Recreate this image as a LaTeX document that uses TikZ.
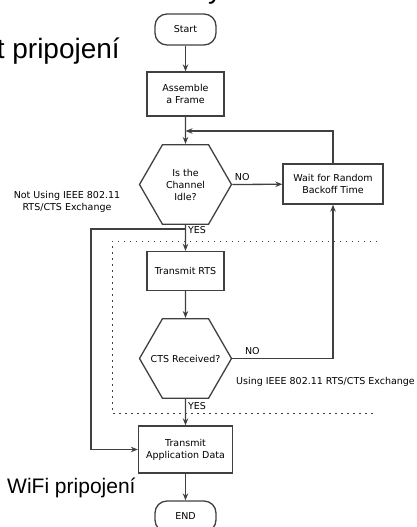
\documentclass[tikz,border=0pt]{standalone}
\usepackage{fontspec}
\setmainfont{DejaVu Sans}
\newfontfamily\slidefont{Liberation Sans}
\usepackage{tikz}
\usetikzlibrary{shapes.geometric,arrows.meta}

\begin{document}
\begin{tikzpicture}[x=1pt,y=-1pt,
  every node/.style={font=\fontsize{9.5}{12}\selectfont,align=center},
  box/.style={rectangle,draw=black!75,line width=1.3pt,inner sep=2pt},
  term/.style={box,rounded corners=12pt,minimum width=61pt,minimum height=31pt},
  test/.style={regular polygon,regular polygon sides=6,draw=black!75,line width=1.3pt,
    minimum size=92pt,inner sep=0pt},
  arr/.style={draw=black!75,line width=1.3pt,-{Stealth[length=7pt,width=5.5pt]}},
  big/.style={font=\slidefont\fontsize{#1}{#1}\selectfont,inner sep=0pt}]
\useasboundingbox (0,0) rectangle (417,527);
\node [big=28,anchor=base] (title) at (215,-1.5) {y};
\node [big=28,anchor=base east] (top) at (120,59) {t pripojení};
\node [big=21,anchor=base west] (bottom) at (7,493) {WiFi pripojení};
\node [term] (start) at (185.5,29.5) {Start};
\node [box,minimum width=77pt,minimum height=44pt] (assemble) at (185.5,94) {Assemble\\a Frame};
\node [test] (idle) at (185.5,184.5) {Is the\\Channel\\Idle?};
\node [box,minimum width=100pt,minimum height=40pt] (wait) at (333,184) {Wait for Random\\Backoff Time};
\node [box,minimum width=77pt,minimum height=39pt] (rts) at (185.5,271) {Transmit RTS};
\node [test] (cts) at (185.5,358.5) {\makebox[20pt]{CTS Received?}};
\node [box,minimum width=94pt,minimum height=47pt] (app) at (185.5,449.5) {Transmit\\Application Data};
\node [term] (end) at (185.5,516.5) {END};
\node (without) at (67,202) {Not Using IEEE 802.11\\RTS/CTS Exchange};
\node (with) at (325.5,382) {Using IEEE 802.11 RTS/CTS Exchange};
\coordinate (merge) at (185.5,131);
\coordinate (split) at (185.5,229);
\coordinate (bypass) at (91,229);
\draw [black!75,line width=0.9pt,dash pattern=on 1.5pt off 4.5pt]
  (377,241) -- (112,241) -- (112,413) -- (377,413);
\draw [arr] (start) -- (assemble);
\draw [arr] (assemble) -- (idle);
\draw [arr] (idle.east) -- node [above,pos=0.2] {NO} (wait);
\draw [arr] (wait.north) |- (merge);
\draw [arr] (idle.south) -- node [right,pos=0.2,inner sep=2pt] {YES} (rts);
\draw [arr] (split) -- (bypass) |- (app.west);
\draw [arr] (rts) -- (cts.north);
\draw [arr] (cts.east) -| node [above,pos=0.1] {NO} (wait.south);
\draw [arr] (cts.south) -- node [right,pos=0.25,inner sep=2pt] {YES} (app);
\draw [arr] (app) -- (end);
\end{tikzpicture}
\end{document}
